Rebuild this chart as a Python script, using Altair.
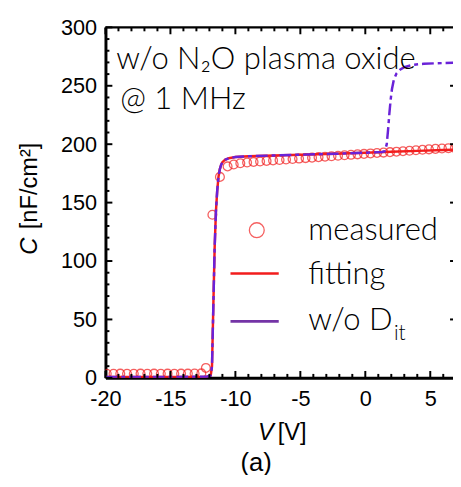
import altair as alt
import pandas as pd

# ---------------- data ----------------
meas_v = [-19.9, -19.38, -18.86, -18.34, -17.82, -17.3, -16.78, -16.26, -15.74, -15.22,
          -14.7, -14.18, -13.66, -13.14, -12.62, -12.27, -11.77, -11.19, -10.6, -10.13,
          -9.62, -9.1, -8.6, -8.1, -7.6, -7.1, -6.6, -6.1, -5.6, -5.1, -4.6, -4.1, -3.6,
          -3.1, -2.6, -2.1, -1.6, -1.1, -0.6, -0.1, 0.4, 0.9, 1.4, 1.9, 2.4, 2.9, 3.4,
          3.9, 4.4, 4.9, 5.4, 5.9, 6.4, 6.9]
meas_c = [3.5, 3.5, 3.6, 3.5, 3.5, 3.6, 3.5, 3.6, 3.5, 3.6,
          3.5, 3.6, 3.6, 3.7, 3.8, 8.5, 139.6, 172.0, 181.0, 182.6,
          183.7, 184.3, 184.8, 185.2, 185.7, 186.1, 186.5, 186.9, 187.3, 187.7, 188.1, 188.5, 188.9,
          189.3, 189.7, 190.1, 190.5, 190.9, 191.3, 191.7, 192.1, 192.5, 192.8, 193.2, 193.6, 194.0, 194.4,
          194.8, 195.2, 195.6, 196.0, 196.3, 196.6, 196.9]

fit_v = [-20, -15, -12.2, -11.9, -11.8, -11.7, -11.6, -11.5, -11.4, -11.3, -11.2, -11.1,
         -11.0, -10.8, -10.5, -10.0, -9.0, -7.0, -5.0, -2.35, 0.0, 2.0, 4.0, 6.0, 6.9]
fit_c = [0.8, 0.8, 1.0, 2.0, 10.0, 60.0, 110.0, 142.0, 160.0, 172.0, 178.5, 182.3,
         184.6, 186.6, 188.0, 189.0, 189.7, 190.4, 191.0, 191.8, 192.7, 193.5, 194.3, 195.0, 195.4]

nodit_v = [-20, -15, -12.2, -11.9, -11.8, -11.7, -11.6, -11.5, -11.4, -11.3, -11.2, -11.1,
           -11.0, -10.8, -10.5, -10.0, -9.0, -7.0, -5.0, -2.35, 0.0, 1.3, 1.5, 1.65, 1.75,
           1.85, 1.95, 2.05, 2.2, 2.4, 2.7, 3.0, 3.7, 4.5, 5.5, 6.9]
nodit_c = [0.8, 0.8, 1.0, 2.0, 10.0, 60.0, 110.0, 142.0, 160.0, 172.0, 178.5, 182.3,
           184.6, 186.6, 188.0, 189.0, 189.7, 190.4, 191.0, 191.8, 192.7, 193.3, 194.0, 200.0, 212.0,
           226.0, 238.0, 247.0, 255.5, 260.5, 264.0, 266.0, 268.0, 268.8, 269.3, 269.7]

x_major = [-20, -15, -10, -5, 0, 5]
x_minor = [-19, -18, -17, -16, -14, -13, -12, -11, -9, -8, -7, -6, -4, -3, -2, -1, 1, 2, 3, 4, 6]
y_major = [0, 50, 100, 150, 200, 250, 300]
y_minor = [10, 20, 30, 40, 60, 70, 80, 90, 110, 120, 130, 140, 160, 170, 180, 190,
           210, 220, 230, 240, 260, 270, 280, 290]
y_right = [50, 100, 150, 200, 250]

legend_labels = ["measured", "fitting", "w/o D", "it"]
note_lines = ["w/o N\u2082O plasma oxide", "@ 1 MHz"]
x_title = ["V", "[V]"]
y_title = ["C", "[nF/cm\u00b2]"]
panel_label = ["(a)"]

# ---------------- layout ----------------
W, H = 353, 356
RED = "#f21d1d"
PURPLE = "#6a22d8"
PURPLE_LEG = "#7434a6"
NUM_FONT = "Liberation Sans"
TXT_FONT = "Lato"
TXT_SIZE = 31.5

xs = alt.Scale(domain=[-20, 6.75], nice=False, zero=False)
ys = alt.Scale(domain=[0, 300], nice=False, zero=False)

meas_df = pd.DataFrame({"V": meas_v, "C": meas_c})
fit_df = pd.DataFrame({"V": fit_v, "C": fit_c})
nodit_df = pd.DataFrame({"V": nodit_v, "C": nodit_c})

x_axis = alt.Axis(values=x_major, ticks=False, grid=False, domainWidth=3, domainColor="black",
                  labelFont=NUM_FONT, labelFontSize=22, labelColor="black", labelPadding=11,
                  labelFlush=False, title=None, orient="bottom",
                  labelExpr="'' + datum.value")
y_axis = alt.Axis(values=y_major, ticks=False, grid=False, domainWidth=3, domainColor="black",
                  labelFont=NUM_FONT, labelFontSize=22, labelColor="black", labelPadding=9,
                  title=None, orient="left", labelExpr="'' + datum.value")


def X(field):
    return alt.X(field, scale=xs, axis=x_axis)


def Y(field):
    return alt.Y(field, scale=ys, axis=y_axis)


measured = alt.Chart(meas_df).mark_point(shape="circle", filled=False, color=RED, size=80,
                                         strokeWidth=1.3, clip=True).encode(
    x=X("V:Q"), y=Y("C:Q"))
fitting = alt.Chart(fit_df).mark_line(color=RED, strokeWidth=2.5, clip=True).encode(
    x=X("V:Q"), y=Y("C:Q"))
nodit = alt.Chart(nodit_df).mark_line(color=PURPLE, strokeWidth=2.5, strokeDash=[12, 4, 4, 4],
                                      clip=True).encode(x=X("V:Q"), y=Y("C:Q"))


def xticks(vals, length):
    df = pd.DataFrame({"V": vals})
    base = alt.Chart(df).mark_rule(color="black", strokeWidth=2)
    bottom = base.encode(x=X("V:Q"), y=alt.value(H), y2=alt.value(H - length))
    top = base.encode(x=X("V:Q"), y=alt.value(0), y2=alt.value(length))
    return [bottom, top]


def yticks(vals, length, right=False):
    df = pd.DataFrame({"C": vals})
    base = alt.Chart(df).mark_rule(color="black", strokeWidth=2)
    if right:
        return [base.encode(y=Y("C:Q"), x=alt.value(W), x2=alt.value(W - length))]
    return [base.encode(y=Y("C:Q"), x=alt.value(0), x2=alt.value(length))]


tick_layers = (xticks(x_minor, 4) + xticks(x_major, 7) + yticks(y_minor, 4) + yticks(y_major, 7)
               + yticks(y_right, 3, right=True))

one = pd.DataFrame({"k": [0]})
top_border = alt.Chart(one).mark_rule(color="black", strokeWidth=2.5).encode(
    x=alt.value(0), x2=alt.value(W), y=alt.value(0))


def label(text, x, y, size, font, align="left", style="normal", weight="normal", color="black",
          angle=0):
    df = pd.DataFrame({"s": [text]})
    return alt.Chart(df).mark_text(align=align, baseline="alphabetic", font=font, fontSize=size,
                                   fontStyle=style, fontWeight=weight, color=color,
                                   angle=angle).encode(
        x=alt.value(x), y=alt.value(y), text="s:N")


notes = [
    label(note_lines[0], 11, 42, TXT_SIZE, TXT_FONT, weight=300),
    label(note_lines[1], 15, 83, TXT_SIZE, TXT_FONT, weight=300),
]

leg_circle = alt.Chart(one).mark_point(shape="circle", filled=False, color=RED, size=227,
                                       strokeWidth=1.3).encode(x=alt.value(153.7), y=alt.value(206))
leg_fit = alt.Chart(one).mark_rule(color=RED, strokeWidth=2.7).encode(
    x=alt.value(127), x2=alt.value(176), y=alt.value(250))
leg_nodit = alt.Chart(one).mark_rule(color=PURPLE_LEG, strokeWidth=2.7).encode(
    x=alt.value(127), x2=alt.value(176), y=alt.value(298.7))
legend = [
    leg_circle, leg_fit, leg_nodit,
    label(legend_labels[0], 206, 215.5, TXT_SIZE, TXT_FONT, weight=300),
    label(legend_labels[1], 206, 261, TXT_SIZE, TXT_FONT, weight=300),
    label(legend_labels[2], 206, 307.7, TXT_SIZE, TXT_FONT, weight=300),
    label(legend_labels[3], 293, 318, 21, TXT_FONT, weight=300),
]

titles = [
    label(x_title[0], 171, 419, 24, NUM_FONT, align="right", style="italic"),
    label(x_title[1], 175, 419, 24, NUM_FONT),
    label(y_title[0], -70, 231, 24, NUM_FONT, style="italic", angle=270),
    label(y_title[1], -70, 205, 24, NUM_FONT, angle=270),
    label(panel_label[0], 153, 451, 26, NUM_FONT, align="center"),
]

chart = alt.layer(
    measured, fitting, nodit, *tick_layers, top_border, *notes, *legend, *titles
).properties(
    width=W, height=H,
    autosize=alt.AutoSizeParams(type="none"),
    padding={"left": 99, "top": 16, "right": 0, "bottom": 95},
).configure_view(stroke=None)

chart.save("out.html", embed_options={"renderer": "svg", "actions": False})
